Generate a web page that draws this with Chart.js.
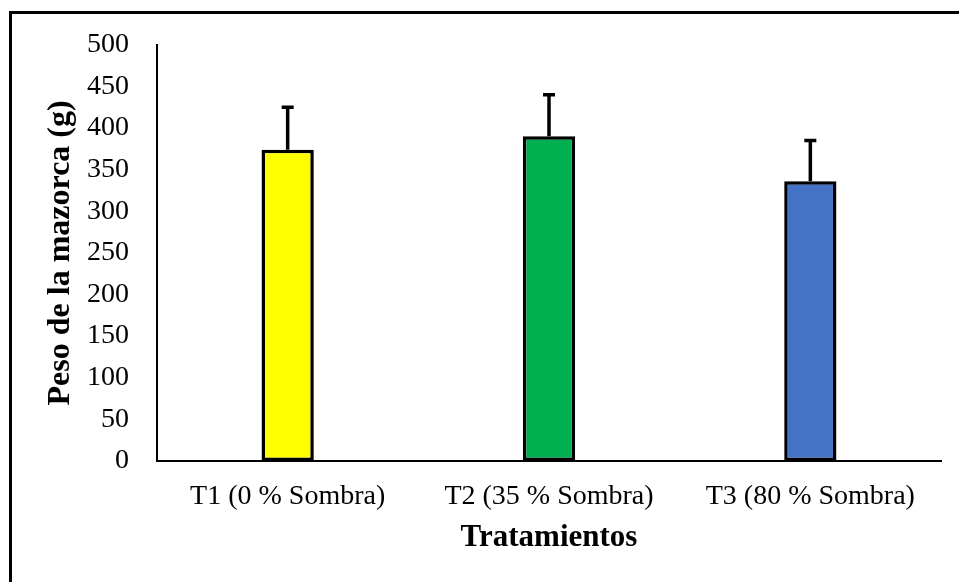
<!DOCTYPE html>
<html>
<head>
<meta charset="utf-8">
<script src="https://cdn.jsdelivr.net/npm/chart.js@4.4.1/dist/chart.umd.min.js"></script>
<style>
    html, body { margin: 0; padding: 0; background: #fff; overflow: hidden; }
    #frame { position: absolute; left: 9px; top: 11px; width: 2000px; height: 2000px; border-left: 3px solid #000; border-top: 3px solid #000; }
    #wrap { position: absolute; left: 0; top: 0; width: 959px; height: 582px; }
</style>
</head>
<body>
<div id="frame"></div>
<div id="wrap"><canvas id="pesoChart" width="959" height="582"></canvas></div>
<script>
const categories = ['T1 (0 % Sombra)', 'T2 (35 % Sombra)', 'T3 (80 % Sombra)'];
const pesoMedio = [374, 390, 336];
const desviacion = [51, 50, 49];
const barColors = ['#ffff00', '#00b050', '#4472c4'];
const yTicks = [0, 50, 100, 150, 200, 250, 300, 350, 400, 450, 500];

// draws the upper error bar for each column
const errorBars = {
    id: 'errorBars',
    afterDatasetsDraw(chart) {
        const ctx = chart.ctx;
        const meta = chart.getDatasetMeta(0);
        const yScale = chart.scales.y;
        ctx.save();
        ctx.strokeStyle = '#000';
        ctx.lineWidth = 3.5;
        meta.data.forEach(function(bar, i) {
            const yTop = yScale.getPixelForValue(pesoMedio[i] + desviacion[i]);
            const yBar = yScale.getPixelForValue(pesoMedio[i]);
            ctx.beginPath();
            ctx.moveTo(bar.x, yBar);
            ctx.lineTo(bar.x, yTop);
            ctx.moveTo(bar.x - 6, yTop);
            ctx.lineTo(bar.x + 6, yTop);
            ctx.stroke();
        });
        ctx.restore();
    }
};

const ctx = document.getElementById('pesoChart').getContext('2d');
const pesoChart = new Chart(ctx, {
    type: 'bar',
    data: {
        labels: categories,
        datasets: [{
            data: pesoMedio,
            backgroundColor: barColors,
            borderColor: '#000',
            borderWidth: 3.5,
            borderSkipped: false,
            barPercentage: 0.2,
            categoryPercentage: 1
        }]
    },
    options: {
        responsive: false,
        animation: false,
        layout: {
            padding: { left: 42, top: 28, right: 18, bottom: 25 }
        },
        plugins: {
            legend: { display: false },
            tooltip: { enabled: false }
        },
        scales: {
            x: {
                afterFit: function(axis) { axis.height = 96; },
                grid: { display: false, drawTicks: false },
                border: { color: '#000', width: 2 },
                ticks: {
                    color: '#000',
                    padding: 19,
                    font: { family: 'Liberation Serif', size: 28 }
                },
                title: {
                    display: true,
                    text: 'Tratamientos',
                    color: '#000',
                    padding: 0,
                    font: { family: 'Liberation Serif', size: 31, weight: 'bold' }
                }
            },
            y: {
                min: 0,
                max: 500,
                afterFit: function(axis) { axis.width = 115; },
                afterBuildTicks: function(axis) {
                    axis.ticks = yTicks.map(v => ({ value: v }));
                },
                grid: { display: false, drawTicks: false },
                border: { color: '#000', width: 2 },
                ticks: {
                    color: '#000',
                    padding: 28,
                    font: { family: 'Liberation Serif', size: 28 }
                },
                title: {
                    display: true,
                    text: 'Peso de la mazorca (g)',
                    color: '#000',
                    padding: 0,
                    font: { family: 'Liberation Serif', size: 32, weight: 'bold' }
                }
            }
        }
    },
    plugins: [errorBars]
});
</script>
</body>
</html>
